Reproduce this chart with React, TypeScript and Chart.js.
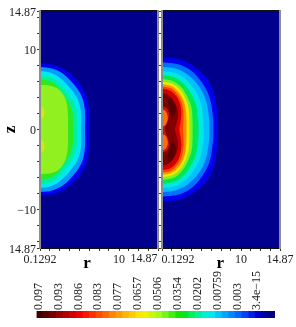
import React, { useEffect, useRef } from "react";
import { Chart, registerables } from "chart.js";

Chart.register(...registerables);

// ---------- axes ----------
const rMin = 0.1292;
const rMax = 14.87;
const zMin = -14.87;
const zMax = 14.87;
const zTickValues = [14.87, 14, 12, 10, 8, 6, 4, 2, 0, -2, -4, -6, -8, -10, -12, -14, -14.87];
const zTickLabels: Record<string, string> = { "14.87": "14.87", "10": "10", "0": "0", "-10": "\u221210", "-14.87": "14.87" };
const rTickValues = [0.1292, 1.36, 2.59, 3.81, 5.04, 6.27, 7.5, 8.73, 10, 11.18, 12.41, 13.64, 14.87];

// ---------- contour bands: top halves, [r, z] from the axis outwards to z = 0 ----------
const leftBlue = [[0.13, 8.3], [1.6, 8.15], [3.25, 7.5], [4.9, 6.0], [5.9, 4.3], [6.25, 2.5], [6.3, 0]];
const leftAzure = [[0.13, 7.85], [1.63, 7.65], [3.0, 7.0], [4.4, 5.6], [5.4, 4.0], [5.75, 2.2], [5.75, 0]];
const leftLight = [[0.13, 7.35], [1.38, 7.15], [2.63, 6.45], [3.88, 5.2], [4.88, 3.7], [5.25, 2.1], [5.25, 0]];
const leftTeal = [[0.13, 6.85], [1.38, 6.65], [2.38, 5.95], [3.38, 4.85], [4.38, 3.35], [4.75, 1.85], [4.75, 0]];
const leftGreen = [[0.13, 6.35], [1.13, 6.15], [2.13, 5.6], [3.0, 4.45], [3.88, 3.1], [4.25, 1.7], [4.25, 0]];
const leftLime = [[0.13, 5.6], [1.38, 5.5], [2.38, 5.1], [3.13, 4.2], [3.5, 3.1], [3.63, 1.5], [3.63, 0]];
const leftSpotUpper = [[0.13, 3.0], [0.5, 2.8], [0.75, 2.1], [0.5, 1.4], [0.13, 1.2]];
const leftSpotLower = [[0.13, -1.2], [0.5, -1.4], [0.75, -2.1], [0.5, -2.8], [0.13, -3.0]];

const rightBlue = [[0.13, 9.0], [2.13, 8.85], [3.85, 8.1], [5.6, 6.6], [6.6, 4.6], [7.1, 1.5], [7.15, 0]];
const rightAzure = [[0.13, 8.45], [2.13, 8.2], [3.7, 7.45], [5.05, 6.0], [6.05, 4.1], [6.5, 1.5], [6.55, 0]];
const rightLight = [[0.13, 7.88], [2, 7.6], [3.4, 6.85], [4.7, 5.5], [5.6, 3.7], [6.0, 1.4], [6.05, 0]];
const rightCyan = [[0.13, 7.35], [1.8, 7.1], [3.1, 6.3], [4.2, 5.0], [5.0, 3.3], [5.3, 1.3], [5.35, 0]];
const rightGreen = [[0.13, 6.85], [1.6, 6.6], [2.8, 5.8], [3.7, 4.6], [4.4, 3.0], [4.65, 1.2], [4.7, 0]];
const rightLime = [[0.13, 6.35], [1.5, 6.1], [2.5, 5.35], [3.25, 4.2], [3.8, 2.8], [3.95, 1.1], [3.95, 0]];
const rightYellow = [[0.13, 6.0], [1.4, 5.75], [2.4, 5.0], [3.05, 3.9], [3.45, 2.6], [3.55, 1.0], [3.55, 0]];
const rightOrange = [[0.13, 5.7], [1.3, 5.45], [2.15, 4.75], [2.8, 3.7], [3.1, 2.4], [3.2, 0.9], [3.2, 0]];
const rightScarlet = [[0.13, 5.4], [1.2, 5.2], [2.0, 4.5], [2.55, 3.5], [2.8, 2.2], [2.8, 0.9], [2.75, 0]];
const rightRed = [[0.13, 5.1], [1.1, 4.9], [1.9, 4.2], [2.35, 3.3], [2.55, 2.1], [2.45, 0.9], [2.3, 0]];
const rightDark = [[0.13, 4.6], [1, 4.3], [1.6, 3.6], [2.0, 2.8], [2.15, 1.9], [2.0, 0.9], [1.75, 0]];
const rightInner = [[0.13, 2.9], [0.7, 2.7], [1.0, 2.1], [0.95, 1.4], [0.7, 0.7], [0.5, 0.2], [0.5, 0]];
const rightSpotUpper = [[0.13, 2.5], [0.6, 2.3], [0.85, 1.5], [0.6, 0.6], [0.13, 0.35]];
const rightSpotLower = [[0.13, -0.6], [0.6, -0.8], [0.85, -1.6], [0.6, -2.4], [0.13, -2.6]];
const rightLobeUpper = [[0.8, 3.9], [1.3, 3.9], [1.7, 3.2], [1.85, 2.4], [1.5, 1.6], [1.1, 2.0], [0.9, 3.0]];
const rightLobeLower = [[0.9, -3.0], [1.1, -2.0], [1.5, -1.6], [1.85, -2.4], [1.7, -3.2], [1.3, -3.9], [0.8, -3.9]];

// ---------- colour bar ----------
const barColors = [
  "#400000", "#5a0000", "#780000", "#960000", "#b40000", "#d20000", "#f00000", "#ff1400", "#ff3000",
  "#ff4c00", "#ff6800", "#ff8400", "#ff9c00", "#ffb400", "#ffcc00", "#ffe400", "#f0f000", "#c8f808",
  "#a0ff10", "#70f818", "#40f010", "#10e800", "#00e820", "#00f060", "#00f0a0", "#00f0d0", "#00e8f0",
  "#00c8ff", "#00a8ff", "#0088ff", "#0068ff", "#0040ff", "#0020e8", "#0000d0", "#0000a8", "#000080",
];
const barLabels = ["0.097", "0.093", "0.086", "0.083", "0.077", "0.0657", "0.0506", "0.0354", "0.0202", "0.00759", "0.003", "3.4e\u221215"];
const barLabelEvery = 3;
const navy = "#00008c";
const SERIF = "'Liberation Serif', serif";

type Band = { pts: number[][]; color: string; mirror?: boolean };
type Txt = { v: number; dx: number; y: number; text: string; bold?: boolean };

const leftBands: Band[] = [
  { pts: leftBlue, color: "#0000ec", mirror: true },
  { pts: leftAzure, color: "#009cff", mirror: true },
  { pts: leftLight, color: "#00e8f0", mirror: true },
  { pts: leftTeal, color: "#00f0a0", mirror: true },
  { pts: leftGreen, color: "#30e820", mirror: true },
  { pts: leftLime, color: "#90f020", mirror: true },
  { pts: leftSpotUpper, color: "#c8e818" },
  { pts: leftSpotLower, color: "#c8e818" },
];
const rightBands: Band[] = [
  { pts: rightBlue, color: "#0000ec", mirror: true },
  { pts: rightAzure, color: "#0070ff", mirror: true },
  { pts: rightLight, color: "#00c0ff", mirror: true },
  { pts: rightCyan, color: "#00e8e0", mirror: true },
  { pts: rightGreen, color: "#00e850", mirror: true },
  { pts: rightLime, color: "#80f020", mirror: true },
  { pts: rightYellow, color: "#f0e800", mirror: true },
  { pts: rightOrange, color: "#ff9000", mirror: true },
  { pts: rightScarlet, color: "#ff4000", mirror: true },
  { pts: rightRed, color: "#d00000", mirror: true },
  { pts: rightDark, color: "#800000", mirror: true },
  { pts: rightInner, color: "#d01000", mirror: true },
  { pts: rightSpotUpper, color: "#ff7000" },
  { pts: rightSpotLower, color: "#ff7000" },
  { pts: rightLobeUpper, color: "#580000" },
  { pts: rightLobeLower, color: "#580000" },
];

const toPoints = (b: Band) => {
  const top = b.pts.map(([x, y]) => ({ x, y }));
  if (!b.mirror) return top;
  const bottom = b.pts.slice(0, -1).reverse().map(([x, y]) => ({ x, y: -y }));
  return [...top, ...bottom];
};

function panelConfig(bands: Band[], side: "left" | "right", texts: Txt[]) {
  const isLeft = side === "left";
  const bandPlugin = {
    id: "bands",
    beforeDatasetsDraw(chart: any) {
      const { ctx, chartArea: a } = chart;
      ctx.save();
      ctx.beginPath();
      ctx.rect(a.left, a.top, a.right - a.left, a.bottom - a.top);
      ctx.clip();
      ctx.fillStyle = navy;
      ctx.fillRect(a.left, a.top, a.right - a.left, a.bottom - a.top);
      chart.data.datasets.forEach((d: any, i: number) => {
        const line = chart.getDatasetMeta(i).dataset;
        line.updateControlPoints(a, "x");
        ctx.beginPath();
        line.path(ctx);
        ctx.closePath();
        ctx.fillStyle = d.backgroundColor;
        ctx.fill();
      });
      ctx.restore();
    },
    afterDraw(chart: any) {
      const { ctx, chartArea: a, scales } = chart;
      ctx.save();
      ctx.fillStyle = "#111";
      ctx.fillRect(a.left, a.top - 1, a.right - a.left, 1);
      ctx.fillRect(a.left, a.bottom, a.right - a.left, 1);
      ctx.fillStyle = "#8c8c8c";
      ctx.fillRect(a.left - 1, a.top - 1, 2, a.bottom - a.top + 2);
      ctx.fillRect(a.right - 1, a.top - 1, 2, a.bottom - a.top + 2);
      ctx.textAlign = "center";
      ctx.textBaseline = "middle";
      texts.forEach((t) => {
        ctx.fillStyle = t.bold ? "#000" : "#222";
        ctx.font = `${t.bold ? "bold 17px" : "12px"} ${SERIF}`;
        ctx.fillText(t.text, scales.x.getPixelForValue(t.v) + t.dx, t.y);
      });
      ctx.restore();
    },
  };
  return {
    type: "scatter",
    plugins: [bandPlugin],
    data: {
      datasets: bands.map((b) => ({
        data: toPoints(b),
        showLine: true,
        tension: 0.35,
        backgroundColor: b.color,
        borderWidth: 0,
        pointRadius: 0,
      })),
    },
    options: {
      responsive: false,
      animation: false,
      clip: false,
      events: [],
      layout: {
        padding: { left: isLeft ? 0 : 157, right: isLeft ? 138 : 16, top: 11, bottom: 75 },
      },
      plugins: { legend: { display: false }, tooltip: { enabled: false } },
      scales: {
        x: {
          type: "linear",
          min: rMin,
          max: rMax,
          afterFit: (s: any) => { s.height = 4; },
          afterBuildTicks: (s: any) => { s.ticks = rTickValues.map((value) => ({ value })); },
          ticks: { display: false },
          grid: { drawOnChartArea: false, tickLength: 3, color: "#333" },
          border: { display: false },
        },
        y: {
          type: "linear",
          min: zMin,
          max: zMax,
          afterFit: (s: any) => { s.width = isLeft ? 40 : 5; },
          afterBuildTicks: (s: any) => { s.ticks = zTickValues.map((value) => ({ value })); },
          title: isLeft
            ? { display: true, text: "z", color: "#000", padding: 0, font: { family: SERIF, size: 17, weight: "bold" } }
            : { display: false },
          ticks: {
            display: isLeft,
            autoSkip: false,
            padding: 1,
            labelOffset: 1.5,
            color: "#222",
            font: { family: SERIF, size: 12 },
            callback: (v: number) => zTickLabels[String(v)] ?? "",
          },
          grid: { drawOnChartArea: false, tickLength: 3, color: "#333" },
          border: { display: false },
        },
      },
    },
  };
}

function barConfig() {
  return {
    type: "bar",
    data: {
      labels: barColors.map((_, i) => (i % barLabelEvery === barLabelEvery - 1 ? barLabels[(i - 2) / barLabelEvery] : "")),
      datasets: [{ data: barColors.map(() => 1), backgroundColor: barColors, borderWidth: 0, barPercentage: 1, categoryPercentage: 1 }],
    },
    options: {
      responsive: false,
      animation: false,
      events: [],
      layout: { padding: { left: 36.5, right: 21, top: 240, bottom: 9 } },
      plugins: { legend: { display: false }, tooltip: { enabled: false } },
      scales: {
        x: {
          position: "top",
          afterFit: (s: any) => { s.height = 71; },
          grid: { display: false, drawTicks: false },
          border: { display: false },
          ticks: {
            autoSkip: false,
            minRotation: 90,
            maxRotation: 90,
            padding: 1,
            color: "#222",
            font: { family: SERIF, size: 12 },
          },
        },
        y: { display: false, min: 0, max: 1 },
      },
    },
  };
}

function Layer({ make }: { make: () => any }) {
  const ref = useRef<HTMLCanvasElement>(null);
  useEffect(() => {
    const chart = new Chart(ref.current as HTMLCanvasElement, make());
    return () => chart.destroy();
  }, []);
  return <canvas ref={ref} width={296} height={327} style={{ position: "absolute", left: 0, top: 0, display: "block" }} />;
}

const leftTexts: Txt[] = [
  { v: 0.1292, dx: 0, y: 260, text: "0.1292" },
  { v: 10, dx: 0, y: 260, text: "10" },
  { v: 14.87, dx: -14, y: 259, text: "14.87" },
  { v: 6, dx: 0, y: 264, text: "r", bold: true },
];
const rightTexts: Txt[] = [
  { v: 0.1292, dx: 16, y: 260, text: "0.1292" },
  { v: 10, dx: 0, y: 260, text: "10" },
  { v: 14.87, dx: 0, y: 260, text: "14.87" },
  { v: 7.4, dx: 0, y: 264, text: "r", bold: true },
];

export default function App() {
  return (
    <div style={{ position: "fixed", left: 0, top: 0, width: 296, height: 327, background: "#fff", overflow: "hidden" }}>
      <Layer make={() => panelConfig(leftBands, "left", leftTexts)} />
      <Layer make={() => panelConfig(rightBands, "right", rightTexts)} />
      <Layer make={barConfig} />
    </div>
  );
}
